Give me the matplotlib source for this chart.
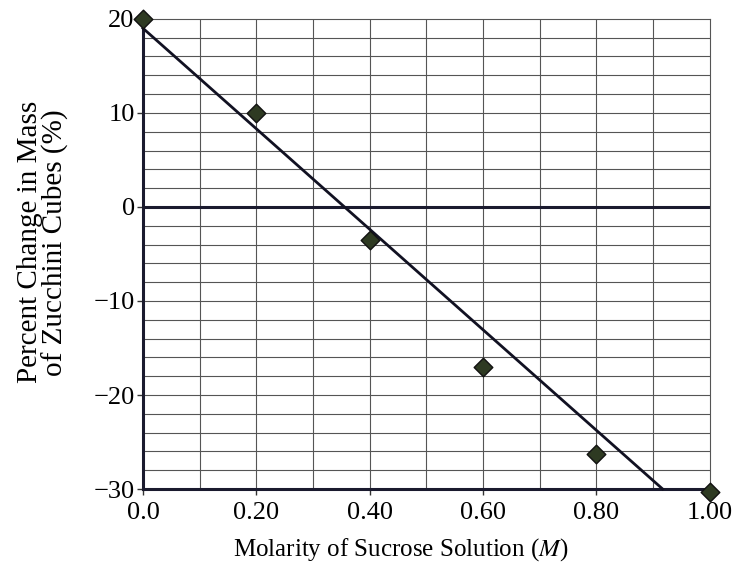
import matplotlib.pyplot as plt
import numpy as np

# data
molarity = [0.0, 0.20, 0.40, 0.60, 0.80, 1.00]
pct_change = [20.0, 10.0, -3.5, -17.0, -26.3, -30.3]
fit_x = [0.0, 0.917]
fit_y = [19.0, -30.0]
xtick_labels = ['0.0', '0.20', '0.40', '0.60', '0.80', '1.00']
ytick_vals = [-30, -20, -10, 0, 10, 20]
ytick_labels = ['\u221230', '\u221220', '\u221210', '0', '10', '20']

plt.rcParams['font.family'] = ['Liberation Serif', 'DejaVu Serif']
plt.rcParams['mathtext.fontset'] = 'stix'

fig = plt.figure(figsize=(7.37, 5.72), dpi=100)
ax = fig.add_axes([0.194, 0.145, 0.769, 0.822])

# grid
for gx in np.arange(0.1, 1.0, 0.1):
    ax.axvline(gx, color='#555555', lw=0.8, zorder=1)
for gy in np.arange(-28, 20, 2):
    ax.axhline(gy, color='#555555', lw=0.8, zorder=1)
ax.axhline(0, color='#1a1a2e', lw=2.2, zorder=2)

ax.plot(fit_x, fit_y, color='#111122', lw=2.0, zorder=3, clip_on=False)
ax.scatter(molarity, pct_change, marker='D', s=90, color='#2e3a22',
           edgecolor='#111111', linewidth=1.0, zorder=4, clip_on=False)

ax.set_xlim(0, 1.0)
ax.set_ylim(-30, 20)
ax.set_xticks(molarity)
ax.set_xticklabels(xtick_labels)
ax.set_yticks(ytick_vals)
ax.set_yticklabels(ytick_labels)
ax.tick_params(axis='both', labelsize=19, length=4, width=1, color='#333333')
ax.tick_params(axis='x', pad=5)
ax.tick_params(axis='y', pad=2)

for side in ['top', 'right']:
    ax.spines[side].set_color('#555555')
    ax.spines[side].set_linewidth(0.8)
for side in ['left', 'bottom']:
    ax.spines[side].set_color('#1a1a2e')
    ax.spines[side].set_linewidth(2.2)

ax.set_xlabel('Molarity of Sucrose Solution ($\\mathit{M}$)', fontsize=18)
ax.xaxis.set_label_coords(0.455, -0.10)
ax.set_ylabel('Percent Change in Mass\nof Zucchini Cubes (%)', fontsize=21,
              linespacing=0.95)
ax.yaxis.set_label_coords(-0.13, 0.525)

fig.savefig('out.png', dpi=100)
